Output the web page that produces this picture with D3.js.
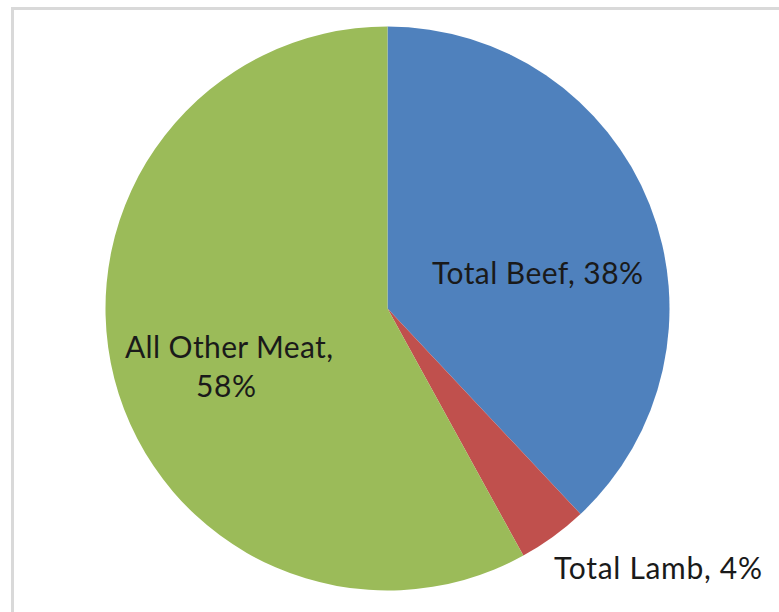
<!DOCTYPE html>
<html>
<head>
<meta charset="utf-8">
<script src="https://cdn.jsdelivr.net/npm/d3@7"></script>
<style>
  html, body { margin: 0; padding: 0; background: #fff; }
  svg { display: block; }
</style>
</head>
<body>
<script>
// Meat share by category
const categories = ["Total Beef", "Total Lamb", "All Other Meat"];
const shares = [38, 4, 58];
const colors = ["#4F81BD", "#C0504D", "#9BBB59"];

const W = 779, H = 612;
const cx = 387.5, cy = 308.5, R = 282;

const svg = d3.select("body").append("svg")
  .attr("width", W).attr("height", H);

// chart area frame (runs off the right and bottom edges)
svg.append("rect")
  .attr("x", 12.5).attr("y", 8.5)
  .attr("width", W + 20).attr("height", H + 20)
  .attr("fill", "#fff")
  .attr("stroke", "#d9d9d9").attr("stroke-width", 3);

const data = categories.map((c, i) => ({ name: c, value: shares[i], color: colors[i] }));

const pie = d3.pie().value(d => d.value).sort(null);
const arc = d3.arc().innerRadius(0).outerRadius(R);

const g = svg.append("g").attr("transform", `translate(${cx},${cy})`);
const arcs = pie(data);

g.selectAll("path").data(arcs).join("path")
  .attr("d", arc)
  .attr("fill", d => d.data.color);

// data labels, each line: text, centre x, baseline y, width
const labelSpecs = [
  [{ s: `${categories[0]}, ${shares[0]}%`, x: 537.5, y: 284, w: 211 }],
  [{ s: `${categories[1]}, ${shares[1]}%`, x: 658, y: 579, w: 208 }],
  [{ s: `${categories[2]},`, x: 229, y: 358, w: 208 },
   { s: `${shares[2]}%`, x: 226, y: 397, w: 60 }]
];

const fontFamily = "Lato, 'Open Sans', 'Liberation Sans', sans-serif";
labelSpecs.forEach(lines => {
  lines.forEach(l => {
    svg.append("text")
      .attr("x", l.x).attr("y", l.y)
      .attr("text-anchor", "middle")
      .attr("font-family", fontFamily)
      .attr("font-size", 30)
      .attr("textLength", l.w)
      .attr("lengthAdjust", "spacing")
      .attr("fill", "#1a1a1a")
      .text(l.s);
  });
});
</script>
</body>
</html>
